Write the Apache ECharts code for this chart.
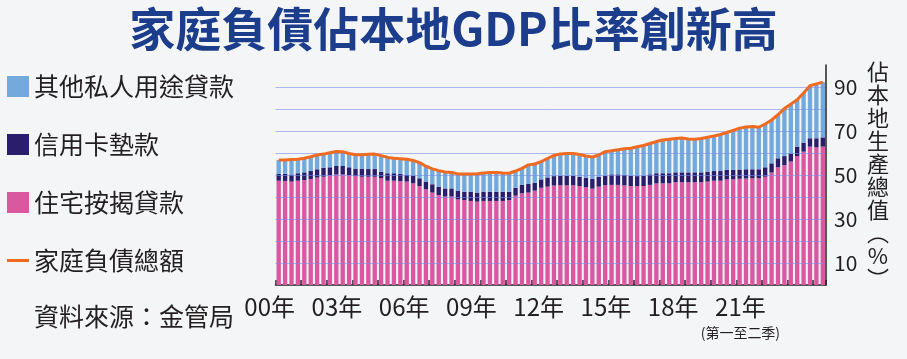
<!DOCTYPE html>
<html><head><meta charset="utf-8">
<script src="https://cdn.jsdelivr.net/npm/echarts@6/dist/echarts.min.js"></script>
<style>html,body{margin:0;padding:0;background:#f4f5f7}#c{width:907px;height:359px}</style>
</head><body><div id="c"></div>
<script>
// 2000Q1 – 2021Q2 quarterly, % of GDP
const years = [];
for (let y = 2000; y <= 2021; y++) years.push(y);
const categories = [];
years.forEach(y => { for (let q = 1; q <= 4; q++) { if (!(y === 2021 && q > 2)) categories.push(y + 'Q' + q); } });

const yearLabels = ['00年','03年','06年','09年','12年','15年','18年','21年'];
const yearNote = '(第一至二季)';

const mortgage = [47.4,47.3,47.0,47.4,47.7,48.2,48.8,49.2,49.8,50.2,50.2,49.8,49.5,49.2,49.2,49.2,48.5,47.4,47.4,47.2,47.0,46.2,45.0,43.5,42.0,40.9,40.2,40.2,38.9,38.6,38.2,37.9,38.2,38.2,38.2,38.2,38.6,40.6,41.7,42.0,42.9,44.2,44.7,45.2,45.3,45.3,45.3,45.0,44.4,43.8,44.7,45.3,45.5,45.5,45.3,45.0,45.0,45.0,45.5,46.2,46.2,46.2,46.7,46.7,46.7,46.7,46.7,47.0,47.4,47.4,48.0,48.0,48.3,48.4,48.5,48.5,49.2,51.1,53.5,54.5,56.1,58.6,60.6,62.9,62.6,62.9];
const creditCard = [3.1,3.2,3.2,3.4,3.5,3.6,3.8,4.0,3.7,3.9,3.9,3.7,3.4,3.7,3.5,3.5,3.0,3.4,3.4,3.3,3.0,3.6,3.5,3.5,3.8,3.8,3.7,3.7,4.0,3.8,4.2,4.1,4.2,4.2,4.2,4.2,3.8,3.6,3.8,3.9,3.6,3.8,4.2,4.3,4.4,4.4,4.4,4.2,4.4,4.4,4.5,4.4,4.8,4.8,4.7,4.7,4.5,4.7,4.8,4.6,4.6,4.6,4.5,4.5,4.5,4.5,4.5,4.5,4.4,4.4,4.3,4.3,4.2,4.2,4.1,4.1,4.3,4.2,4.1,4.1,3.7,4.3,4.1,3.8,4.1,4.2];
const otherPersonal = [6.3,6.3,6.8,6.4,6.4,6.5,6.5,6.3,6.6,6.6,6.5,6.3,6.3,6.3,6.7,6.8,7.3,7.2,6.8,6.9,7.2,6.8,7.1,7.0,7.0,7.3,7.5,7.2,7.6,8.0,8.1,8.6,8.5,8.7,8.7,8.5,8.4,7.6,7.5,8.7,8.5,8.1,8.6,9.4,9.9,10.1,10.1,10.1,9.8,10.0,9.9,10.9,10.7,11.2,11.9,12.5,13.3,13.7,14.0,14.4,15.1,15.5,15.4,15.6,15.2,15.0,15.4,15.7,15.9,16.6,17.0,18.0,18.8,19.2,19.4,19.1,19.7,19.7,19.8,21.6,22.4,21.3,22.6,23.9,24.7,25.1];
const totalDebt = [56.8,56.8,57.0,57.2,57.6,58.3,59.1,59.5,60.1,60.7,60.6,59.8,59.2,59.2,59.4,59.5,58.8,58.0,57.6,57.4,57.2,56.6,55.6,54.0,52.8,52.0,51.4,51.1,50.5,50.4,50.5,50.6,50.9,51.1,51.1,50.9,50.8,51.8,53.0,54.6,55.0,56.1,57.5,58.9,59.6,59.8,59.8,59.3,58.6,58.2,59.1,60.6,61.0,61.5,61.9,62.2,62.8,63.4,64.3,65.2,65.9,66.3,66.6,66.8,66.4,66.2,66.6,67.2,67.7,68.4,69.3,70.3,71.3,71.8,72.0,71.7,73.2,75.0,77.4,80.2,82.2,84.2,87.3,90.6,91.4,92.2];

const names = ['其他私人用途貸款','信用卡墊款','住宅按揭貸款','家庭負債總額'];
const colors = {other:'#74a9dc', card:'#2a1e6c', mort:'#da58a0', total:'#f06a20'};
const FONT = '"Noto Sans CJK TC", "Noto Sans CJK SC", sans-serif';
const TXT = '#231f20';

const chart = echarts.init(document.getElementById('c'), null, {renderer:'canvas'});
chart.setOption({
  backgroundColor: '#f4f5f7',
  animation: false,
  textStyle: {fontFamily: FONT},
  title: [
    {text: '家庭負債佔本地GDP比率創新高', left: 'center', top: 1,
     textStyle: {fontFamily: FONT, fontSize: 46, fontWeight: 'bold', color: '#1c3d8c'}},
    {text: '資料來源：金管局', left: 34, top: 304, padding: 0,
     textStyle: {fontFamily: FONT, fontSize: 25, fontWeight: 'normal', color: TXT}}
  ],
  legend: {
    orient: 'vertical', left: 7, top: 74, padding: 0, itemWidth: 22, itemHeight: 21, itemGap: 33,
    symbolKeepAspect: true,
    textStyle: {fontFamily: FONT, fontSize: 25, color: TXT},
    data: [
      {name: names[0], icon: 'rect'},
      {name: names[1], icon: 'rect'},
      {name: names[2], icon: 'rect'},
      {name: names[3], icon: 'path://M0,0 H22 V3 H0 Z'}
    ]
  },
  grid: [
    {left: 275.5, right: 81, top: 65, bottom: 74},
    {left: 236, right: 133, top: 65, bottom: 74}
  ],
  xAxis: [
    {type: 'category', gridIndex: 0, data: categories, boundaryGap: true,
     axisLine: {lineStyle: {color: '#222', width: 1.5}},
     axisTick: {show: true, inside: true, interval: 3, length: 5, lineStyle: {color: '#222', width: 1.5}},
     axisLabel: {show: false}, splitLine: {show: false}},
    {type: 'category', gridIndex: 1, data: yearLabels.map((t, i) => i === yearLabels.length - 1 ? t + '\n{s|' + yearNote + '}' : t),
     axisLine: {show: false}, axisTick: {show: false}, splitLine: {show: false},
     axisLabel: {interval: 0, margin: 10, fontFamily: FONT, fontSize: 24, color: TXT, lineHeight: 24,
       rich: {s: {fontFamily: FONT, fontSize: 14, color: TXT, lineHeight: 28}}}}
  ],
  yAxis: [
    {type: 'value', gridIndex: 0, position: 'right', min: 0, max: 100, interval: 10, z: 3,
     axisLine: {show: true, lineStyle: {color: '#222', width: 1.5}},
     axisTick: {show: false},
     axisLabel: {margin: 8, fontFamily: FONT, fontSize: 21, color: TXT,
       formatter: v => (v % 20 === 10 ? String(v) : '')},
     splitLine: {show: true, showMaxLine: false, showMinLine: false, lineStyle: {color: 'rgba(120,140,230,0.6)', width: 1}},
     name: '佔\n本\n地\n生\n產\n總\n值\n︵\n%\n︶', nameLocation: 'middle', nameRotate: 0, nameGap: 52,
     nameTextStyle: {fontFamily: FONT, fontSize: 22, lineHeight: 23, color: TXT, align: 'center', verticalAlign: 'middle'}},
    {type: 'value', gridIndex: 1, show: false, min: 0, max: 1}
  ],
  series: [
    {name: names[2], type: 'bar', stack: 'd', data: mortgage, barCategoryGap: '32%', itemStyle: {color: colors.mort}},
    {name: names[1], type: 'bar', stack: 'd', data: creditCard, itemStyle: {color: colors.card}},
    {name: names[0], type: 'bar', stack: 'd', data: otherPersonal, itemStyle: {color: colors.other}},
    {name: names[3], type: 'line', data: totalDebt, symbol: 'none', showSymbol: false, z: 5,
     lineStyle: {color: colors.total, width: 3}, itemStyle: {color: colors.total}}
  ]
});
</script></body></html>
